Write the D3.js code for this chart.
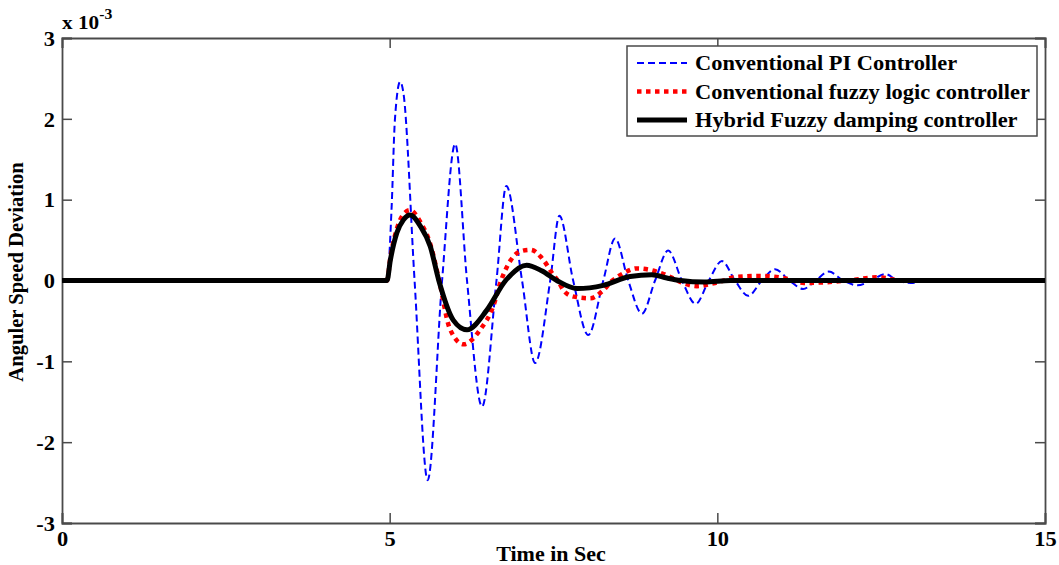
<!DOCTYPE html>
<html>
<head>
<meta charset="utf-8">
<script src="https://cdn.jsdelivr.net/npm/d3@7"></script>
<style>
  body { margin: 0; background: #fff; }
  text { font-family: "Liberation Serif", "Times New Roman", serif; font-weight: bold; fill: #000; }
</style>
</head>
<body>
<svg id="chart" width="1059" height="565"></svg>
<script>
// data (values in units of 1e-3)
const xTicks = [0, 5, 10, 15];
const yTicks = [-3, -2, -1, 0, 1, 2, 3];

const piTime = [0, 4.96, 5.03, 5.08, 5.16, 5.21, 5.38, 5.58, 5.80, 6.00,
  6.18, 6.41, 6.63, 6.78, 7.02, 7.22, 7.45, 7.59, 7.80, 8.03,
  8.26, 8.44, 8.64, 8.85, 9.05, 9.25, 9.46, 9.67, 9.87, 10.07,
  10.27, 10.47, 10.68, 10.88, 11.1, 11.31, 11.5, 11.7, 11.92, 12.14,
  12.35, 12.56, 12.75, 12.95, 13.2, 13.45, 13.7, 14.0, 14.5, 15];
const piValues = [0, 0, 0.91, 1.99, 2.46, 2.32, 0, -2.47, 0, 1.69,
  0, -1.56, 0, 1.17, 0, -1.02, 0, 0.80, 0, -0.675,
  0, 0.52, 0, -0.41, 0, 0.37, 0, -0.29, 0, 0.24,
  0, -0.19, 0, 0.14, 0, -0.105, 0, 0.11, 0, -0.06,
  0, 0.08, 0, -0.03, 0, 0.02, 0, -0.02, -0.01, 0];

const fuzzyTime = [0, 4.96, 5.01, 5.11, 5.21, 5.31, 5.47, 5.62, 5.75, 5.92,
  6.13, 6.38, 6.58, 6.70, 6.79, 6.99, 7.15, 7.35, 7.48, 7.58,
  7.65, 7.81, 8.06, 8.26, 8.40, 8.57, 8.77, 9.03, 9.18, 9.34,
  9.49, 9.69, 9.94, 10.1, 10.25, 10.66, 11.01, 11.15, 11.32, 11.78,
  12.1, 12.44, 12.84, 15];
const fuzzyValues = [0, 0, 0.28, 0.64, 0.82, 0.87, 0.72, 0.45, 0.02, -0.6,
  -0.79, -0.61, -0.32, 0, 0.17, 0.36, 0.38, 0.25, 0.09, -0.02,
  -0.12, -0.2, -0.22, -0.12, 0, 0.09, 0.15, 0.12, 0.08, 0.02,
  -0.035, -0.07, -0.035, 0, 0.04, 0.056, 0.03, 0, -0.03, -0.015,
  0.01, 0.04, 0, 0];

const hybridTime = [0, 4.96, 5.01, 5.11, 5.21, 5.31, 5.47, 5.62, 5.75, 5.97,
  6.18, 6.48, 6.77, 7.09, 7.32, 7.55, 7.86, 8.26, 8.67, 9.0,
  9.23, 9.44, 9.8, 10.2, 15];
const hybridValues = [0, 0, 0.25, 0.59, 0.75, 0.81, 0.67, 0.42, 0, -0.49,
  -0.61, -0.37, 0, 0.19, 0.12, 0, -0.1, -0.06, 0.05, 0.07,
  0.03, 0, -0.02, 0, 0];

const seriesNames = ["Conventional PI Controller", "Conventional fuzzy logic controller", "Hybrid Fuzzy damping controller"];

const svg = d3.select("#chart");
const mLeft = 62, mTop = 38, mRight = 1045, mBottom = 523;

const x = d3.scaleLinear().domain([0, 15]).range([mLeft, mRight]);
const y = d3.scaleLinear().domain([-3, 3]).range([mBottom, mTop]);

// the original text is a bit wider than Liberation Serif, stretch it
function widen(sel, f) {
  sel.each(function () {
    const w = this.getComputedTextLength();
    d3.select(this).attr("textLength", w * f).attr("lengthAdjust", "spacingAndGlyphs");
  });
}

//clip
svg.append("clipPath").attr("id", "clip")
  .append("rect").attr("x", mLeft).attr("y", mTop)
  .attr("width", mRight - mLeft).attr("height", mBottom - mTop);

//axes with inward ticks on all sides
const axisColor = "#4a4a4a";
const tick = 10;
const plain = d => String(d);
const gB = svg.append("g").attr("transform", `translate(0,${mBottom})`)
  .call(d3.axisBottom(x).tickValues(xTicks).tickSize(-tick).tickPadding(9).tickFormat(plain));
const gT = svg.append("g").attr("transform", `translate(0,${mTop})`)
  .call(d3.axisTop(x).tickValues(xTicks).tickSize(-tick).tickFormat(""));
const gL = svg.append("g").attr("transform", `translate(${mLeft},0)`)
  .call(d3.axisLeft(y).tickValues(yTicks).tickSize(-tick).tickPadding(7).tickFormat(plain));
const gR = svg.append("g").attr("transform", `translate(${mRight},0)`)
  .call(d3.axisRight(y).tickValues(yTicks).tickSize(-tick).tickFormat(""));

[gB, gT, gL, gR].forEach(g => {
  g.select(".domain").attr("stroke", axisColor).attr("stroke-width", 1.8);
  g.selectAll(".tick line").attr("stroke", axisColor).attr("stroke-width", 1.5);
  g.selectAll(".tick text").attr("font-size", 20).attr("font-family", null).attr("fill", "#000");
});
gB.selectAll(".tick text").attr("dy", "0.71em");
gL.selectAll(".tick text").attr("dy", "0.36em");
widen(gB.selectAll(".tick text"), 1.12);
widen(gL.selectAll(".tick text"), 1.12);

//exponent label
const expo = svg.append("text").attr("x", mLeft).attr("y", 29).attr("font-size", 19)
  .attr("transform", `translate(${mLeft},0) scale(1.12,1) translate(${-mLeft},0)`);
expo.append("tspan").text("x 10");
expo.append("tspan").attr("dy", -10).attr("font-size", 14).text("-3");

//axis titles
const xTitle = svg.append("text").attr("x", 551).attr("y", 561)
  .attr("text-anchor", "middle").attr("font-size", 20).text("Time in Sec");
widen(xTitle, 1.1);
const yTitle = svg.append("text").attr("transform", `translate(23,272) rotate(-90)`)
  .attr("text-anchor", "middle").attr("font-size", 20).text("Anguler Speed Deviation");
widen(yTitle, 1.03);

//lines
const line = d3.line().x(d => x(d[0])).y(d => y(d[1])).curve(d3.curveMonotoneX);
const plot = svg.append("g").attr("clip-path", "url(#clip)");

const styles = [
  { color: "#0000ff", width: 2, dash: "7,4" },
  { color: "#ff0000", width: 4.5, dash: "4.5,4.5" },
  { color: "#000000", width: 5, dash: null }
];
const data = [
  d3.zip(piTime, piValues),
  d3.zip(fuzzyTime, fuzzyValues),
  d3.zip(hybridTime, hybridValues)
];

data.forEach((pts, i) => {
  plot.append("path").datum(pts)
    .attr("d", line)
    .attr("fill", "none")
    .attr("stroke", styles[i].color)
    .attr("stroke-width", styles[i].width)
    .attr("stroke-dasharray", styles[i].dash)
    .attr("stroke-linejoin", "round");
});

//legend
const lg = svg.append("g");
lg.append("rect").attr("x", 627).attr("y", 46).attr("width", 410).attr("height", 90)
  .attr("fill", "#fff").attr("stroke", axisColor).attr("stroke-width", 1.5);
seriesNames.forEach((name, i) => {
  const cy = 63 + i * 28.5;
  lg.append("line").attr("x1", 637).attr("x2", 687).attr("y1", cy).attr("y2", cy)
    .attr("stroke", styles[i].color).attr("stroke-width", styles[i].width)
    .attr("stroke-dasharray", styles[i].dash);
  const t = lg.append("text").attr("x", 695).attr("y", cy).attr("dy", "0.35em")
    .attr("font-size", 20).text(name);
  widen(t, 1.12);
});
</script>
</body>
</html>
